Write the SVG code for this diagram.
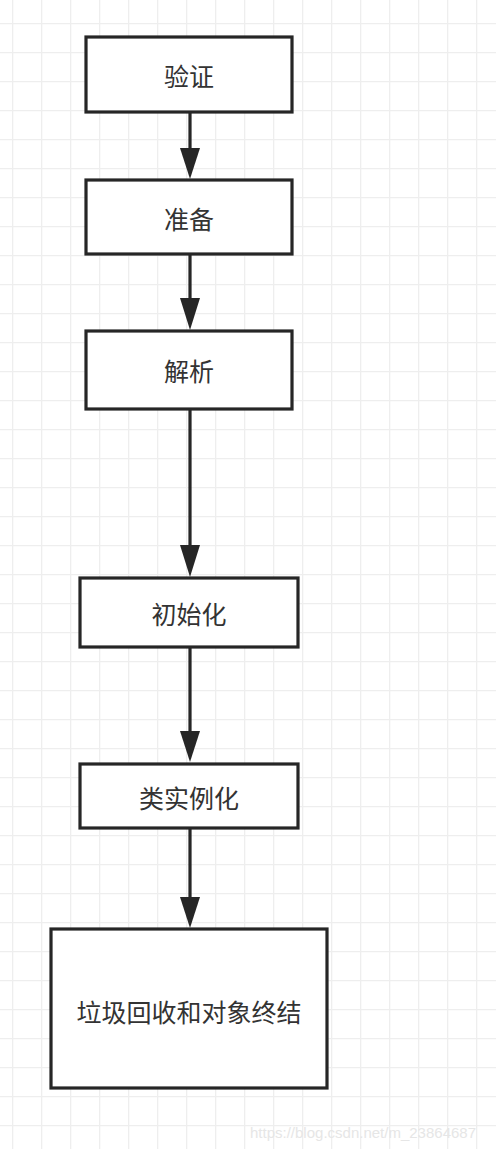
<svg xmlns="http://www.w3.org/2000/svg" width="496" height="1149" viewBox="0 0 496 1149">
<defs>
<pattern id="grid" x="12" y="23" width="29" height="29" patternUnits="userSpaceOnUse">
<path d="M0.5 0 V29 M0 0.5 H29" stroke="#eeeeee" stroke-width="1.6" fill="none"/>
</pattern>
<style>
.box{fill:#fff;stroke:#262626;stroke-width:3.2}
.lbl{font-family:"Noto Sans CJK SC","Noto Sans",sans-serif;font-size:25px;fill:#333;text-anchor:middle;dominant-baseline:central}
.edge{stroke:#262626;stroke-width:3.2;fill:none}
.head{fill:#262626}
</style>
</defs>
<rect width="496" height="1149" fill="#fff"/>
<rect width="496" height="1149" fill="url(#grid)"/>
<g id="connectors">
<line class="edge" x1="190" y1="112" x2="190" y2="150"/>
<path class="head" d="M180 148 L200 148 L190 179 Z"/>
<line class="edge" x1="190" y1="254" x2="190" y2="300"/>
<path class="head" d="M180 298 L200 298 L190 330 Z"/>
<line class="edge" x1="190" y1="409" x2="190" y2="548"/>
<path class="head" d="M180 545 L200 545 L190 577 Z"/>
<line class="edge" x1="190" y1="647" x2="190" y2="734"/>
<path class="head" d="M180 731 L200 731 L190 762 Z"/>
<line class="edge" x1="190" y1="828" x2="190" y2="900"/>
<path class="head" d="M180 897 L200 897 L190 928 Z"/>
</g>
<g id="n1"><rect class="box" x="86" y="37" width="206" height="75"/><text class="lbl" x="189" y="75">验证</text></g>
<g id="n2"><rect class="box" x="86" y="180" width="206" height="74"/><text class="lbl" x="189" y="218">准备</text></g>
<g id="n3"><rect class="box" x="86" y="331" width="206" height="78"/><text class="lbl" x="189" y="370">解析</text></g>
<g id="n4"><rect class="box" x="80" y="578" width="218" height="69"/><text class="lbl" x="189" y="613">初始化</text></g>
<g id="n5"><rect class="box" x="80" y="764" width="218" height="64"/><text class="lbl" x="189" y="797">类实例化</text></g>
<g id="n6"><rect class="box" x="51" y="929" width="276" height="159"/><text class="lbl" x="189" y="1011">垃圾回收和对象终结</text></g>
<text x="250" y="1138" font-family="Liberation Sans, sans-serif" font-size="15" fill="#e6e6e6">https://blog.csdn.net/m_23864687</text>
</svg>
